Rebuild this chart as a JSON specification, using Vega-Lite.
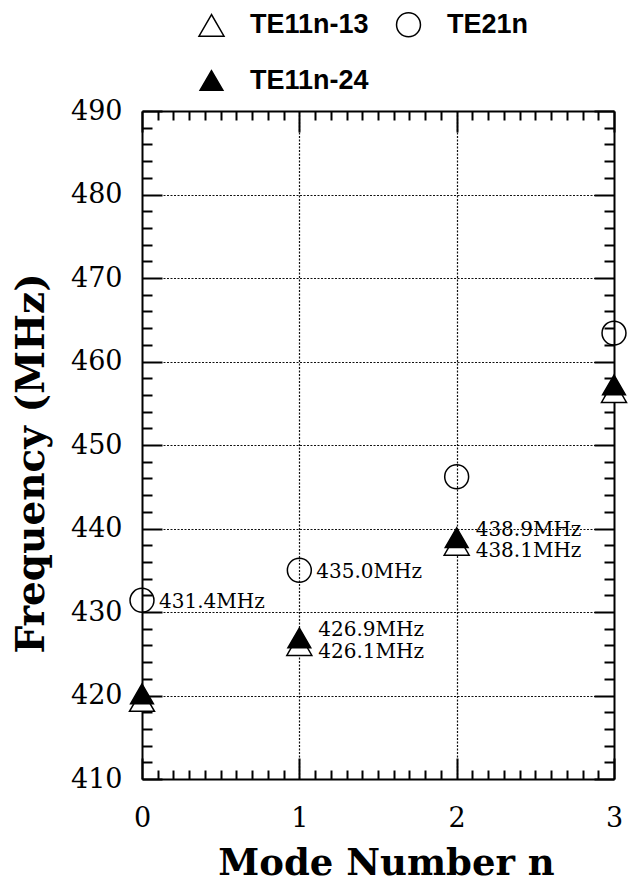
{
  "$schema": "https://vega.github.io/schema/vega-lite/v6.json",
  "autosize": {"type": "none"},
  "width": 472,
  "height": 668,
  "padding": {"left": 142, "top": 111, "right": 18, "bottom": 103},
  "background": "white",
  "datasets": {
    "points": [
      {"series": "TE11n-13", "n": 0, "f": 419.4},
      {"series": "TE11n-13", "n": 1, "f": 426.1},
      {"series": "TE11n-13", "n": 2, "f": 438.1},
      {"series": "TE11n-13", "n": 3, "f": 456.4},
      {"series": "TE21n", "n": 0, "f": 431.4},
      {"series": "TE21n", "n": 1, "f": 435.0},
      {"series": "TE21n", "n": 2, "f": 446.2},
      {"series": "TE21n", "n": 3, "f": 463.4},
      {"series": "TE11n-24", "n": 0, "f": 420.2},
      {"series": "TE11n-24", "n": 1, "f": 426.9},
      {"series": "TE11n-24", "n": 2, "f": 438.9},
      {"series": "TE11n-24", "n": 3, "f": 457.2}
    ],
    "labels": [
      {"n": 0, "f": 431.4, "label": "431.4MHz", "pos": "mid"},
      {"n": 1, "f": 435.0, "label": "435.0MHz", "pos": "mid"},
      {"n": 1, "f": 426.9, "label": "426.9MHz", "pos": "up"},
      {"n": 1, "f": 426.1, "label": "426.1MHz", "pos": "down"},
      {"n": 2, "f": 438.9, "label": "438.9MHz", "pos": "up"},
      {"n": 2, "f": 438.1, "label": "438.1MHz", "pos": "down"}
    ]
  },
  "config": {
    "axis": {
      "domainColor": "black",
      "domainWidth": 2,
      "tickColor": "black",
      "labelColor": "black",
      "titleColor": "black",
      "labelFont": "DejaVu Serif",
      "labelFontSize": 27,
      "labelFontWeight": "normal",
      "titleFont": "DejaVu Serif",
      "titleFontWeight": "bold",
      "gridColor": "#111111",
      "gridDash": [2, 1.5],
      "gridWidth": 1.2
    },
    "legend": {
      "labelFont": "Liberation Sans",
      "labelFontSize": 27,
      "labelFontWeight": "bold",
      "labelColor": "black",
      "symbolStrokeColor": "black",
      "symbolStrokeWidth": 1.5,
      "title": null,
      "orient": "none",
      "legendX": 56,
      "legendY": -100,
      "columns": 2,
      "direction": "horizontal",
      "labelOffset": 25,
      "columnPadding": 24,
      "rowPadding": 26,
      "padding": 0
    },
    "view": {"stroke": null}
  },
  "layer": [
    {
      "data": {"name": "points"},
      "mark": {"type": "point", "filled": true, "strokeWidth": 1.5, "opacity": 1},
      "encoding": {
        "x": {
          "field": "n", "type": "quantitative",
          "scale": {"domain": [0, 3], "nice": false, "zero": false},
          "axis": {
            "orient": "bottom",
            "values": [0,0.1,0.2,0.3,0.4,0.5,0.6,0.7,0.8,0.9,1,1.1,1.2,1.3,1.4,1.5,1.6,1.7,1.8,1.9,2,2.1,2.2,2.3,2.4,2.5,2.6,2.7,2.8,2.9,3],
            "labelExpr": "abs(datum.value - round(datum.value)) < 0.001 ? format(datum.value, 'd') : ''",
            "tickSize": {"condition": {"test": "abs(datum.value - round(datum.value)) < 0.001", "value": -21}, "value": -9},
            "tickWidth": 2,
            "grid": true,
            "gridOpacity": {"condition": {"test": "abs(datum.value - round(datum.value)) < 0.001 && datum.value > 0 && datum.value < 3", "value": 1}, "value": 0},
            "labelPadding": 47,
            "labelFlush": false,
            "labelOverlap": false,
            "title": "Mode Number n",
            "titleFontSize": 37,
            "titleX": 244,
            "titleY": 95,
            "titleAlign": "center",
            "titleBaseline": "alphabetic"
          }
        },
        "y": {
          "field": "f", "type": "quantitative",
          "scale": {"domain": [410, 490], "nice": false, "zero": false},
          "axis": {
            "orient": "left",
            "values": [410,412,414,416,418,420,422,424,426,428,430,432,434,436,438,440,442,444,446,448,450,452,454,456,458,460,462,464,466,468,470,472,474,476,478,480,482,484,486,488,490],
            "labelExpr": "datum.value % 10 === 0 ? datum.label : ''",
            "tickSize": {"condition": {"test": "datum.value % 10 === 0", "value": -20}, "value": -10},
            "tickWidth": 2,
            "grid": true,
            "gridOpacity": {"condition": {"test": "datum.value % 10 === 0 && datum.value > 410 && datum.value < 490", "value": 1}, "value": 0},
            "labelPadding": 40,
            "labelFlush": false,
            "labelOverlap": false,
            "title": "Frequency (MHz)",
            "titleFontSize": 39,
            "titleAngle": -90,
            "titleX": -111,
            "titleY": 352,
            "titleAlign": "center",
            "titleBaseline": "middle"
          }
        },
        "shape": {
          "field": "series", "type": "nominal",
          "scale": {"domain": ["TE11n-13", "TE21n", "TE11n-24"], "range": ["triangle-up", "circle", "triangle-up"]}
        },
        "fill": {
          "field": "series", "type": "nominal",
          "scale": {"domain": ["TE11n-13", "TE21n", "TE11n-24"], "range": ["white", "transparent", "black"]}
        },
        "stroke": {
          "field": "series", "type": "nominal",
          "scale": {"domain": ["TE11n-13", "TE21n", "TE11n-24"], "range": ["black", "black", "black"]}
        },
        "size": {
          "field": "series", "type": "nominal",
          "scale": {"domain": ["TE11n-13", "TE21n", "TE11n-24"], "range": [625, 520, 625]}
        }
      }
    },
    {
      "data": {"name": "labels"},
      "transform": [{"filter": "datum.pos === 'mid'"}],
      "mark": {"type": "text", "align": "left", "baseline": "middle", "dx": 17, "dy": 2, "font": "DejaVu Serif", "fontSize": 20, "color": "black"},
      "encoding": {
        "x": {
          "field": "n", "type": "quantitative",
          "scale": {"domain": [0, 3], "nice": false, "zero": false},
          "axis": {
            "orient": "top",
            "values": [0,0.1,0.2,0.3,0.4,0.5,0.6,0.7,0.8,0.9,1,1.1,1.2,1.3,1.4,1.5,1.6,1.7,1.8,1.9,2,2.1,2.2,2.3,2.4,2.5,2.6,2.7,2.8,2.9,3],
            "labels": false,
            "tickSize": {"condition": {"test": "abs(datum.value - round(datum.value)) < 0.001", "value": -21}, "value": -9},
            "tickWidth": 2,
            "grid": false,
            "title": null
          }
        },
        "y": {
          "field": "f", "type": "quantitative",
          "scale": {"domain": [410, 490], "nice": false, "zero": false},
          "axis": {
            "orient": "right",
            "values": [410,412,414,416,418,420,422,424,426,428,430,432,434,436,438,440,442,444,446,448,450,452,454,456,458,460,462,464,466,468,470,472,474,476,478,480,482,484,486,488,490],
            "labels": false,
            "tickSize": {"condition": {"test": "datum.value % 10 === 0", "value": -20}, "value": -10},
            "tickWidth": 2,
            "grid": false,
            "title": null
          }
        },
        "text": {"field": "label", "type": "nominal"}
      }
    },
    {
      "data": {"name": "labels"},
      "transform": [{"filter": "datum.pos === 'up'"}],
      "mark": {"type": "text", "align": "left", "baseline": "middle", "dx": 19, "dy": -8, "font": "DejaVu Serif", "fontSize": 20, "color": "black"},
      "encoding": {
        "x": {"field": "n", "type": "quantitative", "axis": null},
        "y": {"field": "f", "type": "quantitative", "axis": null},
        "text": {"field": "label", "type": "nominal"}
      }
    },
    {
      "data": {"name": "labels"},
      "transform": [{"filter": "datum.pos === 'down'"}],
      "mark": {"type": "text", "align": "left", "baseline": "middle", "dx": 19, "dy": 7, "font": "DejaVu Serif", "fontSize": 20, "color": "black"},
      "encoding": {
        "x": {"field": "n", "type": "quantitative", "axis": null},
        "y": {"field": "f", "type": "quantitative", "axis": null},
        "text": {"field": "label", "type": "nominal"}
      }
    }
  ],
  "resolve": {"axis": {"x": "independent", "y": "independent"}}
}
